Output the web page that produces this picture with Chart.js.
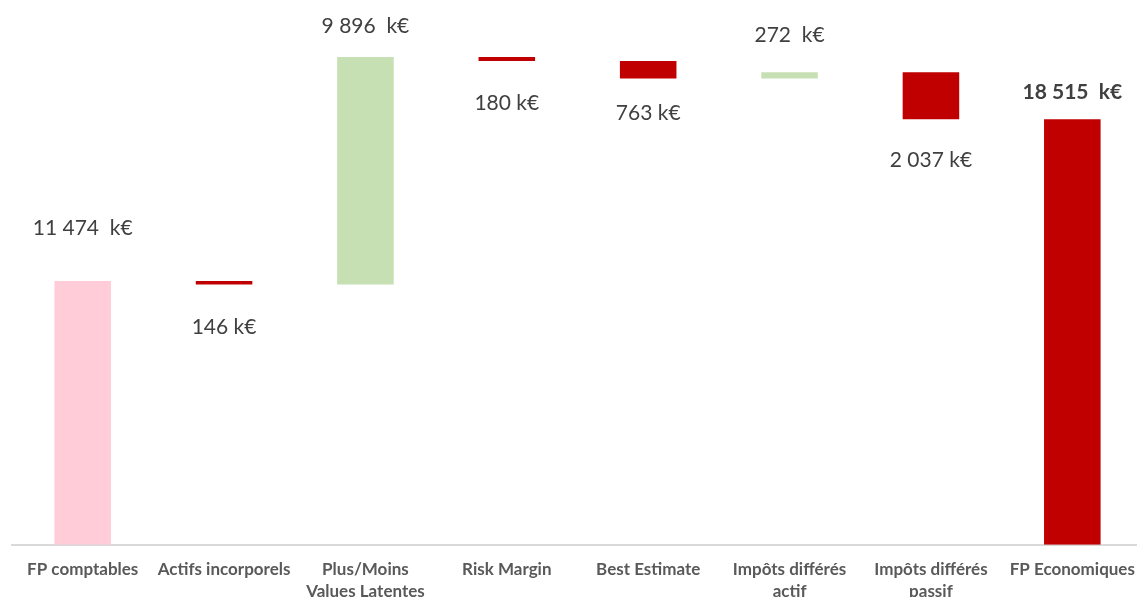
<!DOCTYPE html>
<html>
<head>
<meta charset="utf-8">
<script src="https://cdn.jsdelivr.net/npm/chart.js@4.4.1/dist/chart.umd.min.js"></script>
<style>
  html, body { margin: 0; padding: 0; background: #fff; overflow: hidden; }
  #cadre { position: relative; width: 1143px; height: 609px; }
</style>
</head>
<body>
<div id="cadre"><canvas id="graphique"></canvas></div>
<script>
// Données du waterfall (k€)
const categories = [
  'FP comptables',
  'Actifs incorporels',
  ['Plus/Moins', 'Values Latentes'],
  'Risk Margin',
  'Best Estimate',
  ['Impôts différés', 'actif'],
  ['Impôts différés', 'passif'],
  'FP Economiques'
];
const variations = [11474, -146, 9896, -180, -763, 272, -2037, 18515];
const typesBarres = ['total', 'var', 'var', 'var', 'var', 'var', 'var', 'total'];

// Construction des barres flottantes [debut, fin]
let cumul = 0;
const barres = variations.map(function (v, i) {
  if (typesBarres[i] == 'total') {
    cumul = v;
    return [0, v];
  }
  const debut = cumul;
  cumul += v;
  return [debut, cumul];
});

const couleurs = variations.map(function (v, i) {
  if (i == 0) return '#FFCCD8';
  if (typesBarres[i] == 'total') return '#C00000';
  return v >= 0 ? '#C6E0B4' : '#C00000';
});

function formaterValeur(v) {
  const txt = Math.abs(v).toString().replace(/\B(?=(\d{3})+(?!\d))/g, ' ');
  return v >= 0 ? txt + '  k€' : txt + ' k€';
}

// Etiquettes de valeurs au-dessus / en-dessous des barres
const etiquettes = {
  id: 'etiquettes',
  afterDatasetsDraw(chart, args, opts) {
    const ctx = chart.ctx;
    const meta = chart.getDatasetMeta(0);
    ctx.save();
    ctx.textAlign = 'center';
    ctx.textBaseline = 'middle';
    ctx.fillStyle = '#404040';
    meta.data.forEach(function (barre, i) {
      const v = variations[i];
      const haut = Math.min(barre.y, barre.base);
      const bas = Math.max(barre.y, barre.base);
      const gras = i == variations.length - 1;
      ctx.font = (gras ? 'bold ' : '') + '21px Lato';
      const y = v >= 0 ? haut - opts.decalages[i] : bas + opts.decalages[i];
      ctx.fillText(formaterValeur(v), barre.x, y);
    });
    ctx.restore();
  }
};

const config = {
  type: 'bar',
  data: {
    labels: categories,
    datasets: [{
      data: barres,
      backgroundColor: couleurs,
      borderWidth: 0,
      borderSkipped: false,
      categoryPercentage: 1,
      barPercentage: 0.4
    }]
  },
  options: {
    responsive: true,
    maintainAspectRatio: false,
    animation: false,
    layout: { padding: { left: 12, top: 0, right: 0, bottom: 0 } },
    plugins: {
      legend: { display: false },
      tooltip: { enabled: false },
      etiquettes: { decalages: [53, 43, 31, 42, 35, 37, 41, 27] }
    },
    scales: {
      x: {
        grid: { display: false },
        border: { display: true, color: '#D9D9D9', width: 2 },
        ticks: {
          color: '#595959',
          padding: 6,
          maxRotation: 0,
          autoSkip: false,
          font: { family: 'Lato', size: 17, weight: 'bold', lineHeight: 1.3 }
        }
      },
      y: {
        display: false,
        min: 0,
        max: 23700
      }
    }
  },
  plugins: [etiquettes]
};

let myChart = new Chart(document.getElementById('graphique'), config);
</script>
</body>
</html>
